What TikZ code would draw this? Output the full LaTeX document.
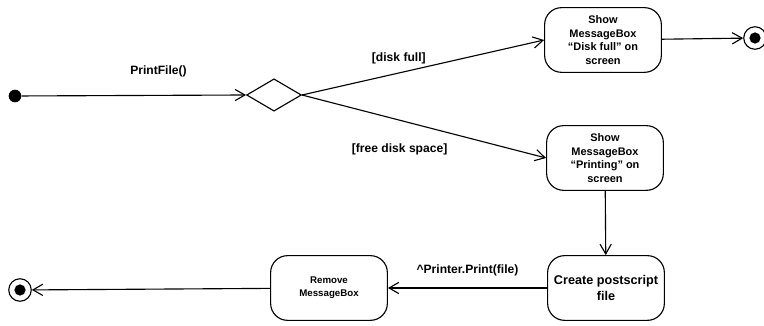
\documentclass[tikz,border=0pt]{standalone}
\usepackage{fontspec}
\setmainfont{Liberation Sans}
\usetikzlibrary{shapes.geometric, arrows.meta}

\begin{document}
\begin{tikzpicture}[x=0.025cm, y=-0.025cm,
  every node/.style={font=\bfseries\fontsize{7.8}{9.6}\selectfont},
  guard/.style={font=\bfseries\fontsize{8.6}{10.5}\selectfont},
  activity/.style={draw, thick, rounded corners=12pt, align=center,
    minimum width=83pt, minimum height=46pt, inner sep=1pt},
  start/.style={circle, fill, minimum size=9pt, inner sep=0pt},
  final/.style={circle, draw, thick, minimum size=16pt, inner sep=0pt,
    path picture={\fill (path picture bounding box.center) circle (4pt);}},
  branch/.style={diamond, draw, thick, minimum width=39pt, minimum height=23pt, inner sep=0pt},
  flow/.style={->, >={Straight Barb[length=7pt, width=8pt]}, thick}
]
\useasboundingbox (0,0) rectangle (764,326);

% start and decision
\node[start] (init) at (15,96) {};
\node[branch] (choice) at (274,95) {};

% activities
\node[activity] (full) at (603,40) {Show\\MessageBox\\``Disk full'' on\\screen};
\node[activity] (printing) at (605,158) {Show\\MessageBox\\``Printing'' on\\screen};
\node[activity, font=\bfseries\fontsize{9}{11}\selectfont] (create) at (606,288) {Create postscript\\file};
\node[activity, font=\bfseries\fontsize{6.9}{9}\selectfont] (remove) at (329,288) {Remove\\MessageBox};

% end states
\node[final] (done1) at (755,38) {};
\node[final] (done2) at (20,290) {};

% transitions
\draw[flow] (init) -- (choice.west) node[guard, pos=0.61, above=9pt] {PrintFile()};
\draw[flow] (choice.east) -- (full.west) node[guard, pos=0.4, above=3pt] {[disk full]};
\draw[flow] (choice.east) -- (printing.west) node[guard, pos=0.4, below=13pt] {[free disk space]};
\draw[flow] (full) -- (done1);
\draw[flow] (printing) -- (create);
\draw[flow] (create) -- (remove) node[guard, midway, above=5pt] {\textasciicircum Printer.Print(file)};
\draw[flow] (remove) -- (done2);

\end{tikzpicture}
\end{document}
